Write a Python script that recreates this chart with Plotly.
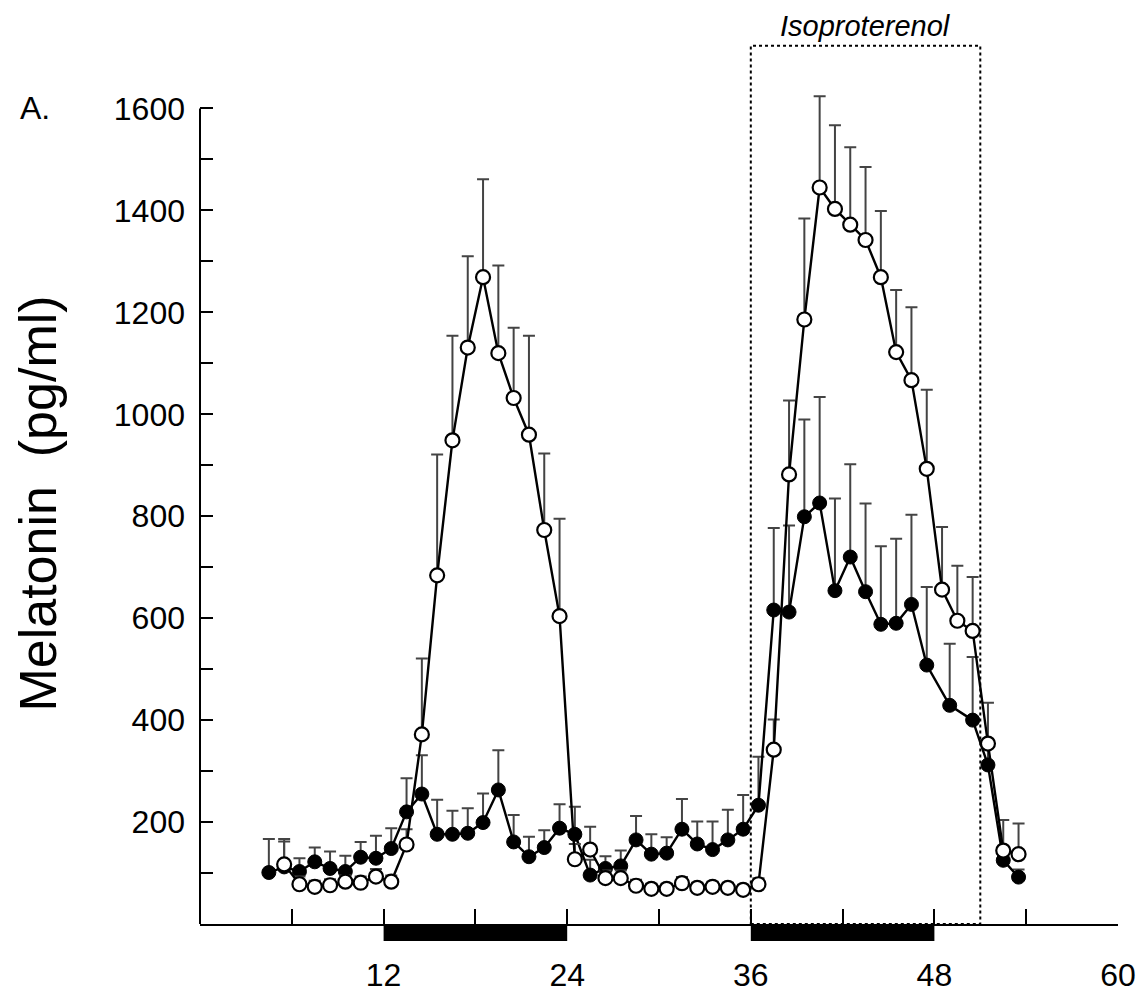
import plotly.graph_objects as go

# hours (clock time of each sample) and melatonin, pg/ml
hours_filled = [4.5, 5.5, 6.5, 7.5, 8.5, 9.5, 10.5, 11.5, 12.5, 13.5, 14.5, 15.5, 16.5,
                17.5, 18.5, 19.5, 20.5, 21.5, 22.5, 23.5, 24.5, 25.5, 26.5, 27.5, 28.5,
                29.5, 30.5, 31.5, 32.5, 33.5, 34.5, 35.5, 36.5, 37.5, 38.5, 39.5, 40.5,
                41.5, 42.5, 43.5, 44.5, 45.5, 46.5, 47.5, 49.0, 50.5, 51.5, 52.5, 53.5]
mel_filled = [101, 112, 103, 122, 109, 103, 131, 129, 148, 220, 255, 176, 176,
              178, 199, 263, 161, 132, 150, 188, 176, 96, 109, 114, 165,
              137, 139, 186, 157, 146, 165, 186, 233, 616, 612, 799, 826,
              654, 720, 652, 588, 590, 627, 508, 429, 400, 312, 125, 92]
sem_filled = [66, 50, 26, 28, 33, 31, 30, 44, 40, 66, 76, 68, 46,
              49, 57, 78, 53, 39, 34, 47, 54, 30, 24, 30, 47,
              39, 31, 59, 44, 55, 59, 67, 95, 161, 170, 191, 208,
              181, 182, 173, 153, 166, 176, 153, 121, 124, 40, 20, 15]

hours_open = [5.5, 6.5, 7.5, 8.5, 9.5, 10.5, 11.5, 12.5, 13.5, 14.5, 15.5, 16.5,
              17.5, 18.5, 19.5, 20.5, 21.5, 22.5, 23.5, 24.5, 25.5, 26.5, 27.5, 28.5,
              29.5, 30.5, 31.5, 32.5, 33.5, 34.5, 35.5, 36.5, 37.5, 38.5, 39.5, 40.5,
              41.5, 42.5, 43.5, 44.5, 45.5, 46.5, 47.5, 48.5, 49.5, 50.5, 51.5, 52.5, 53.5]
mel_open = [117, 78, 73, 76, 83, 81, 93, 83, 156, 372, 684, 949,
            1131, 1269, 1120, 1032, 960, 773, 604, 127, 146, 90, 90, 75,
            69, 69, 80, 71, 73, 71, 67, 78, 342, 882, 1186, 1445,
            1403, 1372, 1342, 1269, 1122, 1067, 893, 656, 595, 575, 354, 144, 137]
sem_open = [50, 15, 12, 12, 12, 12, 15, 12, 30, 149, 237, 205,
            179, 192, 172, 138, 194, 150, 191, 30, 45, 15, 15, 12,
            10, 10, 12, 10, 10, 10, 10, 12, 59, 145, 198, 179,
            164, 152, 143, 130, 122, 143, 155, 123, 108, 106, 80, 60, 60]

dark_periods = [(12, 24), (36, 48)]
drug_window = (36, 51)

y_major = [200, 400, 600, 800, 1000, 1200, 1400, 1600]
y_minor = [100, 300, 500, 700, 900, 1100, 1300, 1500]
x_major = [12, 24, 36, 48, 60]
x_minor = [6, 18, 30, 42, 54]

Y_TOP = 1650   # a little headroom so the tallest error caps are not clipped
FONT = "Liberation Sans, Arial, Helvetica, sans-serif"

fig = go.Figure()

err_style = dict(type="data", symmetric=False, color="#444444", thickness=2, width=6)

fig.add_trace(go.Scatter(
    x=hours_filled, y=mel_filled,
    error_y=dict(array=sem_filled, **err_style),
    mode="lines+markers",
    line=dict(color="black", width=2.4),
    marker=dict(symbol="circle", size=14, color="black", line=dict(color="black", width=1)),
    cliponaxis=False, showlegend=False,
))

fig.add_trace(go.Scatter(
    x=hours_open, y=mel_open,
    error_y=dict(array=sem_open, **err_style),
    mode="lines+markers",
    line=dict(color="black", width=2.4),
    marker=dict(symbol="circle", size=14, color="white", line=dict(color="black", width=2.2)),
    cliponaxis=False, showlegend=False,
))

# y axis line only up to the top tick
fig.add_shape(type="line", xref="paper", yref="y", x0=0, x1=0, y0=0, y1=y_major[-1],
              line=dict(color="black", width=2), layer="above")

# black bars under the x axis for the dark periods
for x0, x1 in dark_periods:
    fig.add_shape(type="rect", xref="x", yref="paper", x0=x0, x1=x1, y0=-0.0202, y1=0,
                  fillcolor="black", line=dict(width=0), layer="above")

# dotted box for the isoproterenol treatment
fig.add_shape(type="rect", xref="x", yref="paper", x0=drug_window[0], x1=drug_window[1],
              y0=0, y1=1723 / Y_TOP, line=dict(color="black", width=2, dash="dot"), layer="above")

fig.add_annotation(x=sum(drug_window) / 2, y=1762 / Y_TOP, xref="x", yref="paper",
                   text="<i>Isoproterenol</i>", showarrow=False,
                   xanchor="center", yanchor="middle",
                   font=dict(family=FONT, size=29, color="black"))

fig.add_annotation(x=-0.198, y=y_major[-1], xref="paper", yref="y", text="A.",
                   showarrow=False, xanchor="left", yanchor="middle",
                   font=dict(family=FONT, size=32, color="black"))

fig.update_xaxes(
    range=[0, 60], tickvals=x_major, ticktext=[str(v) for v in x_major],
    ticks="inside", ticklen=15, tickwidth=2, tickcolor="black",
    minor=dict(tickvals=x_minor, ticks="inside", ticklen=15, tickwidth=2, tickcolor="black"),
    showline=True, linecolor="black", linewidth=2, showgrid=False, zeroline=False,
    tickfont=dict(family=FONT, size=32, color="black"), ticklabelstandoff=22,
    automargin=False,
)
fig.update_yaxes(
    range=[0, Y_TOP], tickvals=y_major, ticktext=[str(v) for v in y_major],
    ticks="inside", ticklen=13, tickwidth=2, tickcolor="black",
    minor=dict(tickvals=y_minor, ticks="inside", ticklen=13, tickwidth=2, tickcolor="black"),
    showline=False, showgrid=False, zeroline=False,
    tickfont=dict(family=FONT, size=32, color="black"), ticklabelstandoff=14,
    title=dict(text="Melatonin  (pg/ml)", font=dict(family=FONT, size=52, color="black"), standoff=40),
    automargin=False,
)

# the page body adds an 8 px offset, so the figure is 8 px smaller and margins are shifted
fig.update_layout(
    width=1137, height=990,
    margin=dict(l=192, r=27, t=74.5, b=74),
    plot_bgcolor="white", paper_bgcolor="white",
)

fig.write_html("out.html")
